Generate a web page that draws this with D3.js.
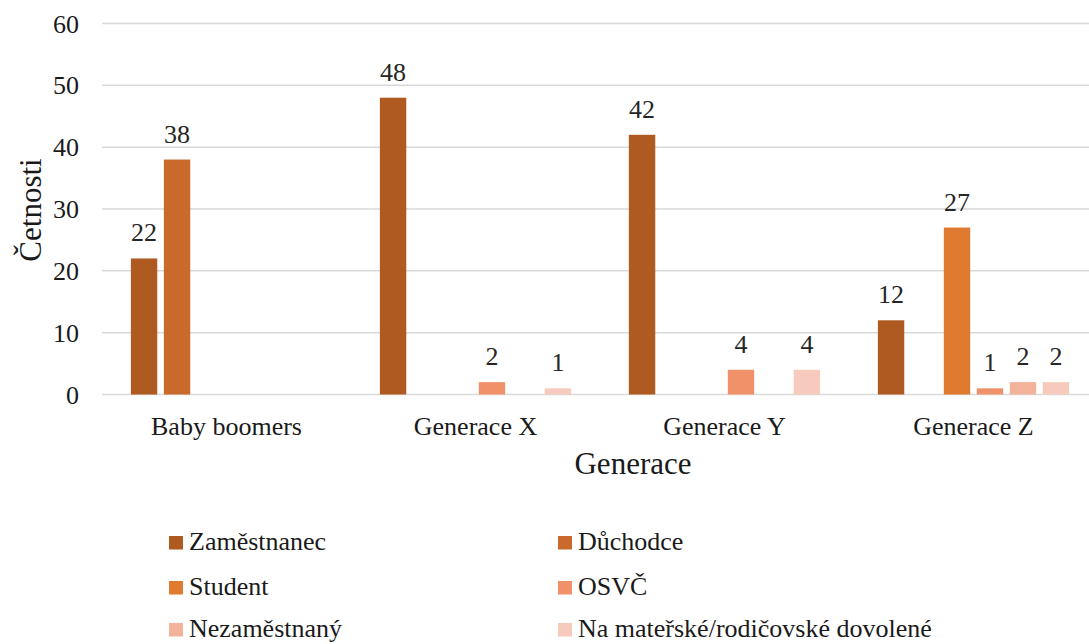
<!DOCTYPE html>
<html><head><meta charset="utf-8">
<script src="https://cdn.jsdelivr.net/npm/d3@7"></script>
<style>
html,body{margin:0;padding:0;background:#fff;}
</style></head>
<body>
<svg id="chart" width="1089" height="644"></svg>
<script>
const categories = ["Baby boomers", "Generace X", "Generace Y", "Generace Z"];
const seriesNames = ["Zaměstnanec", "Důchodce", "Student", "OSVČ", "Nezaměstnaný", "Na mateřské/rodičovské dovolené"];
const zamestnanec = [22, 48, 42, 12];
const duchodce    = [38, null, null, null];
const student     = [null, null, null, 27];
const osvc        = [null, 2, 4, 1];
const nezamestnany= [null, null, null, 2];
const materska    = [null, 1, 4, 2];
const yTicks = [0, 10, 20, 30, 40, 50, 60];
const colors = ["#ae5a21", "#c9692b", "#e07a30", "#f0916a", "#f3b39b", "#f6cbbd"];

const FONT = "'Liberation Serif', 'Times New Roman', Tinos, 'DejaVu Serif', serif";
const seriesValues = [zamestnanec, duchodce, student, osvc, nezamestnany, materska];
const svg = d3.select("#chart").attr("font-family", FONT);

const x0 = d3.scaleBand().domain(categories).range([102, 1098]).paddingInner(0.232).paddingOuter(0.116);
const x1 = d3.scaleBand().domain(seriesNames).range([0, x0.bandwidth()]).paddingInner(0.2).paddingOuter(0);
const y = d3.scaleLinear().domain([0, 60]).range([394.5, 23.5]);
const color = d3.scaleOrdinal().domain(seriesNames).range(colors);

// gridlines
svg.append("g").selectAll("line").data(yTicks).join("line")
  .attr("x1", 102).attr("x2", 1098)
  .attr("y1", d => y(d)).attr("y2", d => y(d))
  .attr("stroke", "#d9d9d9").attr("stroke-width", 1.5);

// y tick labels
svg.append("g").selectAll("text").data(yTicks).join("text")
  .attr("font-family", FONT)
  .attr("x", 79).attr("y", d => y(d)).attr("dy", "0.35em")
  .attr("text-anchor", "end").attr("font-size", 26).attr("fill", "#1a1a1a")
  .text(d => d);

// x tick labels
svg.append("g").selectAll("text").data(categories).join("text")
  .attr("font-family", FONT)
  .attr("x", d => x0(d) + x0.bandwidth() / 2).attr("y", 435)
  .attr("text-anchor", "middle").attr("font-size", 26).attr("fill", "#1a1a1a")
  .text(d => d);

// bars
const flat = [];
categories.forEach((c, i) => {
  seriesNames.forEach((s, j) => {
    const v = seriesValues[j][i];
    if (v != null && v > 0) flat.push({cat: c, ser: s, val: v});
  });
});

const g = svg.append("g");
g.selectAll("rect").data(flat).join("rect")
  .attr("x", d => x0(d.cat) + x1(d.ser))
  .attr("y", d => y(d.val))
  .attr("width", x1.bandwidth())
  .attr("height", d => y(0) - y(d.val))
  .attr("fill", d => color(d.ser));

g.selectAll("text").data(flat).join("text")
  .attr("font-family", FONT)
  .attr("x", d => x0(d.cat) + x1(d.ser) + x1.bandwidth() / 2)
  .attr("y", d => y(d.val) - 17)
  .attr("text-anchor", "middle").attr("font-size", 26).attr("fill", "#262626")
  .text(d => d.val);

// axis titles
svg.append("text").attr("font-family", FONT).attr("x", 633).attr("y", 474).attr("text-anchor", "middle")
  .attr("font-size", 31).attr("fill", "#1a1a1a").text("Generace");
svg.append("text").attr("font-family", FONT).attr("transform", "translate(41,210) rotate(-90)")
  .attr("text-anchor", "middle").attr("font-size", 31).attr("fill", "#1a1a1a").text("Četnosti");

// legend
const legendCols = [169, 558];
const legendRows = [542.5, 587.5, 629.5];
const leg = svg.append("g").selectAll("g").data(seriesNames).join("g")
  .attr("transform", (d, i) => `translate(${legendCols[i % 2]},${legendRows[Math.floor(i / 2)]})`);
leg.append("rect").attr("x", 0).attr("y", -6.5).attr("width", 14).attr("height", 13.5)
  .attr("fill", d => color(d));
leg.append("text").attr("font-family", FONT).attr("x", 20).attr("y", 7.5)
  .attr("font-size", 26).attr("fill", "#1a1a1a").text(d => d);
</script>
</body></html>
